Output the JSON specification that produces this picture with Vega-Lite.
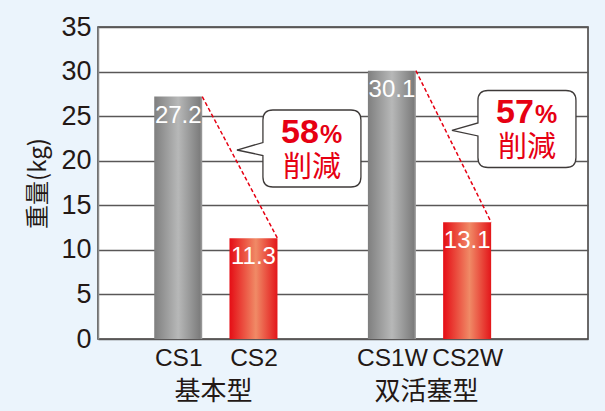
{
  "$schema": "https://vega.github.io/schema/vega-lite/v6.json",
  "width": 490,
  "height": 312,
  "autosize": {"type": "none"},
  "padding": {"left": 98, "top": 27, "right": 17, "bottom": 72},
  "background": "#ebf4fc",
  "config": {
    "view": {"fill": "#ffffff", "stroke": "#3e3a39", "strokeWidth": 1.5},
    "font": "Liberation Sans"
  },
  "datasets": {
    "bars": [
      {"name": "CS1", "pos": 1, "weight": 27.2, "kind": "old"},
      {"name": "CS2", "pos": 2, "weight": 11.3, "kind": "new"},
      {"name": "CS1W", "pos": 3.84, "weight": 30.1, "kind": "old"},
      {"name": "CS2W", "pos": 4.84, "weight": 13.1, "kind": "new"}
    ],
    "lines": [
      {"from": 1, "fromW": 27.2, "to": 2, "toW": 11.3},
      {"from": 3.84, "fromW": 30.1, "to": 4.84, "toW": 13.1}
    ],
    "callouts": [
      {"cx": 2.777, "cy": 21.37, "pct": "58", "label": "削減"},
      {"cx": 5.635, "cy": 23.56, "pct": "57", "label": "削減"}
    ],
    "groups": [
      {"gx": 1.47, "gy": 0, "group": "基本型"},
      {"gx": 4.3, "gy": 0, "group": "双活塞型"}
    ]
  },
  "layer": [
    {
      "data": {"name": "bars"},
      "transform": [{"filter": "datum.kind == 'old'"}],
      "mark": {
        "type": "bar",
        "width": 48,
        "color": {
          "gradient": "linear", "x1": 0, "x2": 1, "y1": 0, "y2": 0,
          "stops": [
            {"offset": 0, "color": "#7f7f7f"},
            {"offset": 0.5, "color": "#b7b8b8"},
            {"offset": 0.95, "color": "#7d7d7d"},
            {"offset": 1, "color": "#a0a0a0"}
          ]
        }
      },
      "encoding": {
        "x": {
          "field": "pos", "type": "quantitative",
          "scale": {"domain": [0, 6.38], "nice": false, "zero": false},
          "axis": {
            "values": [1, 2, 3.84, 4.84],
            "labelExpr": "datum.value == 1 ? 'CS1' : datum.value == 2 ? 'CS2' : datum.value < 4 ? 'CS1W' : 'CS2W'",
            "title": null, "grid": false, "domain": false, "ticks": false,
            "labelFont": "Liberation Sans", "labelFontSize": 24.5, "labelColor": "#231815",
            "labelPadding": 7, "labelFlush": false, "labelOverlap": false
          }
        },
        "y": {
          "field": "weight", "type": "quantitative",
          "scale": {"domain": [0, 35], "nice": false},
          "axis": {
            "values": [0, 5, 10, 15, 20, 25, 30, 35],
            "title": "重量(kg)",
            "titleFont": "Noto Sans CJK JP", "titleFontSize": 24, "titleFontWeight": "normal",
            "titleColor": "#231815", "titlePadding": 10,
            "grid": true, "gridColor": "#595757", "gridWidth": 1.5,
            "domain": true, "domainColor": "#8a8a8a", "domainWidth": 1.5,
            "ticks": false,
            "labelFont": "Liberation Sans", "labelFontSize": 27, "labelColor": "#231815",
            "labelPadding": 7, "labelFlush": false
          }
        }
      }
    },
    {
      "data": {"name": "bars"},
      "transform": [{"filter": "datum.kind == 'new'"}],
      "mark": {
        "type": "bar",
        "width": 48,
        "color": {
          "gradient": "linear", "x1": 0, "x2": 1, "y1": 0, "y2": 0,
          "stops": [
            {"offset": 0, "color": "#e50d15"},
            {"offset": 0.55, "color": "#f08a66"},
            {"offset": 1, "color": "#e3161a"}
          ]
        }
      },
      "encoding": {
        "x": {"field": "pos", "type": "quantitative"},
        "y": {"field": "weight", "type": "quantitative"}
      }
    },
    {
      "data": {"name": "bars"},
      "mark": {"type": "text", "color": "#ffffff", "font": "Liberation Sans", "fontSize": 24, "baseline": "middle", "dy": 19},
      "encoding": {
        "x": {"field": "pos", "type": "quantitative"},
        "y": {"field": "weight", "type": "quantitative"},
        "text": {"field": "weight", "type": "quantitative", "format": ".1f"}
      }
    },
    {
      "data": {"name": "lines"},
      "mark": {"type": "rule", "color": "#e60012", "strokeWidth": 1.5, "strokeDash": [4, 2.5], "xOffset": 24, "x2Offset": 24},
      "encoding": {
        "x": {"field": "from", "type": "quantitative"},
        "x2": {"field": "to"},
        "y": {"field": "fromW", "type": "quantitative"},
        "y2": {"field": "toW"}
      }
    },
    {
      "data": {"name": "callouts"},
      "mark": {
        "type": "point",
        "shape": "M -0.78 -0.77 L 0.78 -0.77 Q 0.98 -0.77 0.98 -0.57 L 0.98 0.57 Q 0.98 0.77 0.78 0.77 L -0.78 0.77 Q -0.98 0.77 -0.98 0.57 L -0.98 0.14 L -1.5 0.03 L -0.98 -0.12 L -0.98 -0.57 Q -0.98 -0.77 -0.78 -0.77 Z",
        "size": 10000,
        "filled": true,
        "fill": "#ffffff",
        "stroke": "#3e3a39",
        "strokeWidth": 1.3,
        "opacity": 1
      },
      "encoding": {
        "x": {"field": "cx", "type": "quantitative"},
        "y": {"field": "cy", "type": "quantitative"}
      }
    },
    {
      "data": {"name": "callouts"},
      "mark": {"type": "text", "color": "#e60012", "font": "Liberation Sans", "fontWeight": "bold", "fontSize": 34, "align": "right", "baseline": "alphabetic", "dx": 7, "dy": -5.5},
      "encoding": {
        "x": {"field": "cx", "type": "quantitative"},
        "y": {"field": "cy", "type": "quantitative"},
        "text": {"field": "pct"}
      }
    },
    {
      "data": {"name": "callouts"},
      "mark": {"type": "text", "color": "#e60012", "font": "Liberation Sans", "fontWeight": "bold", "fontSize": 25, "align": "left", "baseline": "alphabetic", "dx": 8, "dy": -5.5, "text": "%"},
      "encoding": {
        "x": {"field": "cx", "type": "quantitative"},
        "y": {"field": "cy", "type": "quantitative"}
      }
    },
    {
      "data": {"name": "callouts"},
      "mark": {"type": "text", "color": "#e60012", "font": "Noto Sans CJK JP", "fontSize": 29, "align": "center", "baseline": "middle", "dy": 19},
      "encoding": {
        "x": {"field": "cx", "type": "quantitative"},
        "y": {"field": "cy", "type": "quantitative"},
        "text": {"field": "label"}
      }
    },
    {
      "data": {"name": "groups"},
      "mark": {"type": "text", "color": "#231815", "font": "Noto Sans CJK JP", "fontSize": 26, "align": "center", "baseline": "middle", "dy": 53},
      "encoding": {
        "x": {"field": "gx", "type": "quantitative"},
        "y": {"field": "gy", "type": "quantitative"},
        "text": {"field": "group"}
      }
    }
  ]
}
